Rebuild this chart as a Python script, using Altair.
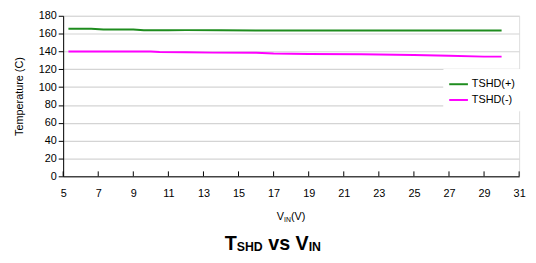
import altair as alt
import pandas as pd

vin_plus = [5.3, 6.6, 7.3, 9.0, 9.6, 11, 12, 14, 16, 18, 20, 22, 24, 26, 28, 30]
tshd_plus = [165.5, 165.5, 164.7, 164.7, 163.8, 163.8, 163.9, 163.7, 163.6, 163.6, 163.6, 163.6, 163.6, 163.6, 163.6, 163.6]
vin_minus = [5.3, 7, 9, 10, 10.5, 12, 13.5, 16, 17, 19, 22, 25, 27, 29, 30]
tshd_minus = [140, 140, 140, 140, 139.3, 139.2, 138.7, 138.5, 137.7, 137.2, 136.8, 136, 135.3, 134.2, 134.2]
series = ["TSHD(+)", "TSHD(-)"]
colors = ["#1e8c1e", "#ff00ff"]
x_ticks = list(range(5, 32, 2))
y_ticks = list(range(0, 181, 20))

rows = [{"v": v, "t": t, "s": series[0]} for v, t in zip(vin_plus, tshd_plus)]
rows += [{"v": v, "t": t, "s": series[1]} for v, t in zip(vin_minus, tshd_minus)]
df = pd.DataFrame(rows)

W, H = 463, 163
FONT = "Liberation Sans"

xscale = alt.Scale(domain=[5, 31], nice=False, zero=False)
yscale = alt.Scale(domain=[0, 180], nice=False)
x_axis = alt.Axis(values=x_ticks, title=None, grid=False, ticks=False,
                  labelPadding=11, labelFontSize=11, labelFont=FONT,
                  labelOverlap=False, labelFlush=False, labelBound=False,
                  labelColor="#000", domainColor="#000", domainWidth=1)

lines = alt.Chart(df).mark_line(strokeWidth=2).encode(
    x=alt.X("v:Q", scale=xscale, axis=x_axis),
    y=alt.Y("t:Q", scale=yscale,
            axis=alt.Axis(values=y_ticks, title="Temperature (C)", titleFont=FONT,
                          titleFontSize=11, titleFontWeight="normal", titleColor="#000",
                          titlePadding=14, labelFontSize=11, labelFont=FONT, labelColor="#000",
                          labelOverlap=False, labelFlush=False,
                          tickSize=5, tickColor="#000", labelPadding=2,
                          domainColor="#000", gridColor="#d4d4d4", gridWidth=1.2)),
    color=alt.Color("s:N", scale=alt.Scale(domain=series, range=colors),
                    legend=alt.Legend(title=None, orient="none", legendX=386, legendY=54,
                                      fillColor="white", strokeColor="white", padding=5,
                                      symbolType="stroke",
                                      symbolSize=361, symbolStrokeWidth=2, labelFontSize=11,
                                      labelFont=FONT, labelColor="#000", labelOffset=3,
                                      rowPadding=0)),
)

tick_df = pd.DataFrame({"v": x_ticks})
ticks = alt.Chart(tick_df).mark_rule(color="#000", strokeWidth=1).encode(
    x=alt.X("v:Q", scale=xscale, axis=x_axis), y=alt.value(H), y2=alt.value(H - 5)
)

one = pd.DataFrame({"a": [0]})

def txt(s, x, y, size, weight="normal"):
    return alt.Chart(one).mark_text(text=s, align="left", baseline="alphabetic",
                                    font=FONT, fontSize=size, fontWeight=weight,
                                    color="#000").encode(x=alt.value(x), y=alt.value(y))

# axis title V_IN(V)
ax = 281 - 64
ay = 221 - 14
axis_title = [
    txt("V", ax, ay, 11),
    txt("IN", ax + 7.3, ay + 2, 7),
    txt("(V)", ax + 14.3, ay, 11),
]
# chart title T_SHD vs V_IN
tx = 228 - 64
ty = 252 - 14
title = [
    txt("T", tx, ty, 20, "bold"),
    txt("SHD", tx + 12.2, ty + 1, 12.5, "bold"),
    txt("vs", tx + 44.2, ty, 20, "bold"),
    txt("V", tx + 72, ty, 20, "bold"),
    txt("IN", tx + 85.3, ty + 1, 12.5, "bold"),
]

chart = alt.layer(lines, ticks, *axis_title, *title).properties(
    width=W, height=H, autosize=alt.AutoSizeParams(type="none"),
    padding={"left": 56, "top": 6, "right": 9, "bottom": 78},
).configure_view(stroke=None, clip=False).configure(background="white")

chart.save("out.html", embed_options={"renderer": "svg", "actions": False})
